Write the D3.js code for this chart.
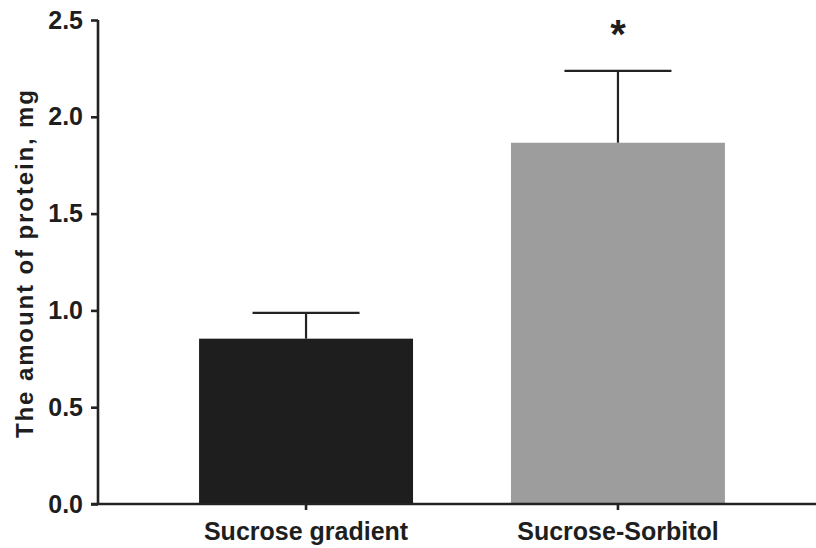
<!doctype html>
<html lang="en">
<head>
    <meta charset="utf-8">
    <title>Protein amount</title>
    <style>
        body { margin: 0; background: #fff; }
        text { font-family: "Liberation Sans", Arial, sans-serif; font-weight: bold; fill: #1e1e1e; }
    </style>
</head>
<body>
    <div id="chart"></div>
    <script src="https://cdn.jsdelivr.net/npm/d3@7/dist/d3.min.js"></script>
    <script>
        var categories = ["Sucrose gradient", "Sucrose-Sorbitol"];
        var means = [0.854, 1.866];
        var errors = [0.133, 0.371];
        var marks = ["", "*"];
        var yTicks = [0, 0.5, 1.0, 1.5, 2.0, 2.5];
        var colors = ["#1e1e1e", "#9d9d9d"];

        (function () {
            var width = 816, height = 548;
            var ink = "#222";

            var svg = d3.select("#chart").append("svg")
                .attr("width", width)
                .attr("height", height);

            var x = d3.scaleBand()
                .domain(categories)
                .range([98, 826])
                .paddingInner(0.314)
                .paddingOuter(0.324);

            var y = d3.scaleLinear()
                .domain([0, 2.5])
                .range([504, 20]);

            // bars
            svg.selectAll(".bar").data(categories).enter()
                .append("rect")
                .attr("class", "bar")
                .attr("x", function (d) { return x(d); })
                .attr("width", x.bandwidth())
                .attr("y", function (d, i) { return y(means[i]); })
                .attr("height", function (d, i) { return y(0) - y(means[i]); })
                .attr("fill", function (d, i) { return colors[i]; });

            // error bars (upper only)
            var err = svg.append("g").attr("stroke", ink).attr("stroke-width", 2.2);
            categories.forEach(function (c, i) {
                var cx = x(c) + x.bandwidth() / 2;
                var half = x.bandwidth() / 4;
                err.append("line")
                    .attr("x1", cx).attr("x2", cx)
                    .attr("y1", y(means[i])).attr("y2", y(means[i] + errors[i]));
                err.append("line")
                    .attr("x1", cx - half).attr("x2", cx + half)
                    .attr("y1", y(means[i] + errors[i])).attr("y2", y(means[i] + errors[i]));
                if (marks[i]) {
                    svg.append("text")
                        .attr("x", cx)
                        .attr("y", y(means[i] + errors[i]) - 23)
                        .attr("text-anchor", "middle")
                        .style("font-size", "40px")
                        .text(marks[i]);
                }
            });

            // y axis
            var yAxis = svg.append("g")
                .attr("transform", "translate(98,0)")
                .call(d3.axisLeft(y).tickValues(yTicks).tickFormat(d3.format(".1f")).tickSize(7).tickPadding(8));
            yAxis.select(".domain").attr("d", "M0," + y(2.5) + "V" + y(0));

            // x axis
            var xAxis = svg.append("g")
                .attr("transform", "translate(0,504)")
                .call(d3.axisBottom(x).tickSize(6).tickPadding(12));
            xAxis.select(".domain").attr("d", "M91,0H" + width);

            svg.selectAll(".domain, .tick line")
                .attr("stroke", ink)
                .attr("stroke-width", 2.6);
            svg.selectAll(".tick text")
                .attr("fill", "#1e1e1e")
                .style("font-family", "'Liberation Sans', Arial, sans-serif")
                .style("font-weight", "bold")
                .style("font-size", "25px");
            xAxis.selectAll(".tick text").attr("dy", "0.71em");

            // y title
            svg.append("text")
                .attr("transform", "translate(33,264) rotate(-90)")
                .attr("text-anchor", "middle")
                .attr("textLength", 348)
                .attr("lengthAdjust", "spacing")
                .style("font-size", "24px")
                .text("The amount of protein, mg");
        })();
    </script>
</body>
</html>
